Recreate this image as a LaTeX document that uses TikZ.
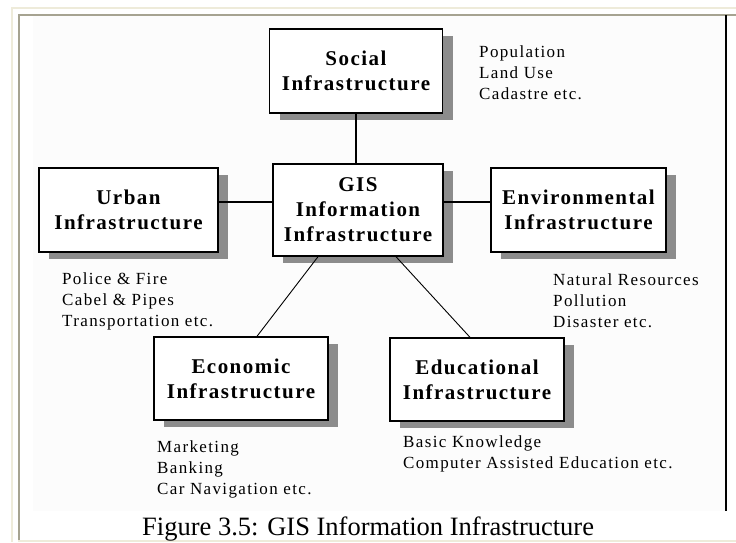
\documentclass[tikz,border=0pt]{standalone}
\usepackage{fontspec}
\setmainfont{Liberation Serif}
\newfontfamily\boxfont[LetterSpace=7]{Liberation Serif}
\newfontfamily\notefont[LetterSpace=8]{Liberation Serif}
\usetikzlibrary{shadows}
\definecolor{framebeige}{HTML}{EEEBDA}
\definecolor{framegray}{HTML}{A6A391}
\definecolor{shadowgray}{HTML}{8C8C8C}
\definecolor{panel}{HTML}{FCFCFC}
\newcommand\notelines[1]{\vtop{\baselineskip=21pt\lineskiplimit=-20pt\halign{##\hfil\cr#1\crcr}}}
\begin{document}
\begin{tikzpicture}[x=1pt,y=-1pt,
  infobox/.style={draw=black, line width=1.4pt, fill=white, inner sep=0pt, align=center,
     font=\boxfont\bfseries\fontsize{21}{25}\selectfont,
     drop shadow={shadow xshift=10pt, shadow yshift=-7pt, fill=shadowgray, opacity=1}},
  notetext/.style={anchor=base west, inner sep=0pt, font=\notefont\fontsize{17}{21}\selectfont},
  linkline/.style={draw=black, line width=1.3pt},
  slantline/.style={draw=black, line width=0.9pt}]
\useasboundingbox (0,0) rectangle (736,542);
\fill[white] (0,0) rectangle (736,542);
\fill[panel] (33,16) rectangle (725,511);
\draw[framebeige, line width=2pt] (12,542) -- (12,8) -- (736,8);
\draw[framegray, line width=2pt] (19,541) -- (19,15) -- (736,15);
\draw[framebeige, line width=2pt] (18,541) -- (736,541);
\draw[black, line width=1.5pt] (726,15) -- (726,511);

\node[infobox, minimum width=173pt, minimum height=84pt] (social) at (356,71) {Social\\Infrastructure};
\node[infobox, minimum width=170pt, minimum height=92pt] (gis) at (358,210) {GIS\\Information\\Infrastructure};
\node[infobox, minimum width=179pt, minimum height=84pt] (urban) at (128.5,210) {Urban\\Infrastructure};
\node[infobox, minimum width=175pt, minimum height=84pt] (env) at (578.5,210) {Environmental\\Infrastructure};
\node[infobox, minimum width=174pt, minimum height=83pt] (econ) at (241,378.5) {Economic\\Infrastructure};
\node[infobox, minimum width=174pt, minimum height=83pt] (edu) at (477,379.5) {Educational\\Infrastructure};

\draw[linkline] (social.south) -- (social.south |- gis.north);
\draw[linkline] ([yshift=8pt]urban.east) -- ([yshift=8pt]gis.west);
\draw[linkline] ([yshift=8pt]gis.east) -- ([yshift=8pt]env.west);
\draw[slantline] ([xshift=-40pt]gis.south) -- ([xshift=16pt]econ.north);
\draw[slantline] ([xshift=38pt]gis.south) -- ([xshift=-7pt]edu.north);

\node[notetext] (socialnotes) at (479,57) {\notelines{Population\cr Land Use\cr Cadastre etc.}};
\node[notetext] (urbannotes) at (62,284) {\notelines{Police \& Fire\cr Cabel \& Pipes\cr Transportation etc.}};
\node[notetext] (envnotes) at (553,285) {\notelines{Natural Resources\cr Pollution\cr Disaster etc.}};
\node[notetext] (econnotes) at (157,452) {\notelines{Marketing\cr Banking\cr Car Navigation etc.}};
\node[notetext] (edunotes) at (403,447) {\notelines{Basic Knowledge\cr Computer Assisted Education etc.}};

\node[anchor=base west, inner sep=0pt, font=\fontsize{26.5}{30}\selectfont] (caption) at (142,535) {Figure 3.5: GIS Information Infrastructure};
\end{tikzpicture}
\end{document}
